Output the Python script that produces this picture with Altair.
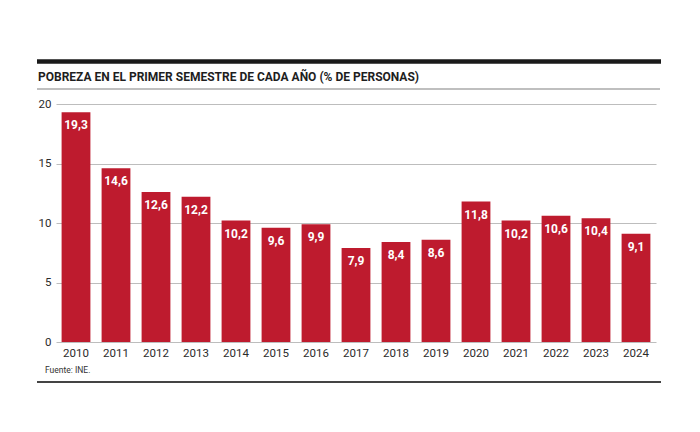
import altair as alt
import pandas as pd

years = ["2010", "2011", "2012", "2013", "2014", "2015", "2016", "2017",
         "2018", "2019", "2020", "2021", "2022", "2023", "2024"]
values = [19.3, 14.6, 12.6, 12.2, 10.2, 9.6, 9.9, 7.9, 8.4, 8.6,
          11.8, 10.2, 10.6, 10.4, 9.1]
y_ticks = [0, 5, 10, 15, 20]

title_text = "POBREZA EN EL PRIMER SEMESTRE DE CADA AÑO (% DE PERSONAS)"
source_text = "Fuente: INE."

FONT = "Roboto"
RED = "#BE1B2E"

df = pd.DataFrame({
    "year": years,
    "value": values,
    "label": [f"{v:.1f}".replace(".", ",") for v in values],
})

base = alt.Chart(df)

x_enc = alt.X(
    "year:N",
    sort=years,
    scale=alt.Scale(paddingInner=0.28, paddingOuter=0.14),
    axis=alt.Axis(title=None, labelAngle=0, ticks=False, domain=False,
                  labelFont=FONT, labelFontSize=11.5, labelColor="#2b2b2b",
                  labelPadding=5),
)
y_enc = alt.Y(
    "value:Q",
    scale=alt.Scale(domain=[0, 20], nice=False),
    axis=alt.Axis(title=None, values=y_ticks, ticks=False, domain=False,
                  grid=True, gridColor="#bdbdbd", gridWidth=1.2,
                  labelFont=FONT, labelFontSize=11.5, labelColor="#2b2b2b",
                  labelPadding=5),
)

bars = base.mark_bar(color=RED).encode(x=x_enc, y=y_enc)

labels = base.mark_text(
    baseline="top", dy=8, color="white", fontWeight="bold",
    fontSize=12, font=FONT,
).encode(x=alt.X("year:N", sort=years), y="value:Q", text="label:N")

one = alt.Chart(pd.DataFrame({"a": [0]}))

top_line = one.mark_rule(color="#1a1a1a", strokeWidth=4.5).encode(
    x=alt.value(-19), x2=alt.value(605), y=alt.value(-42.5))
sub_line = one.mark_rule(color="#aaaaaa", strokeWidth=1.5).encode(
    x=alt.value(-19), x2=alt.value(604), y=alt.value(-15))
bottom_line = one.mark_rule(color="#444444", strokeWidth=2).encode(
    x=alt.value(-19), x2=alt.value(605), y=alt.value(278))

title = one.mark_text(
    align="left", baseline="alphabetic", fontSize=12, fontWeight="bold",
    font=FONT, color="#1e1e1e",
).encode(x=alt.value(-18), y=alt.value(-22.7), text=alt.value(title_text))

source = one.mark_text(
    align="left", baseline="alphabetic", fontSize=8.5, font=FONT,
    color="#333333",
).encode(x=alt.value(-11), y=alt.value(268.7), text=alt.value(source_text))

chart = alt.layer(bars, labels, top_line, sub_line, bottom_line, title, source).properties(
    width=600,
    height=238,
    autosize=alt.AutoSizeParams(type="none"),
    padding={"left": 48, "top": 96, "right": 36, "bottom": 82},
).configure_view(stroke=None)

chart.save("out.html", embed_options={"renderer": "svg", "actions": False})
